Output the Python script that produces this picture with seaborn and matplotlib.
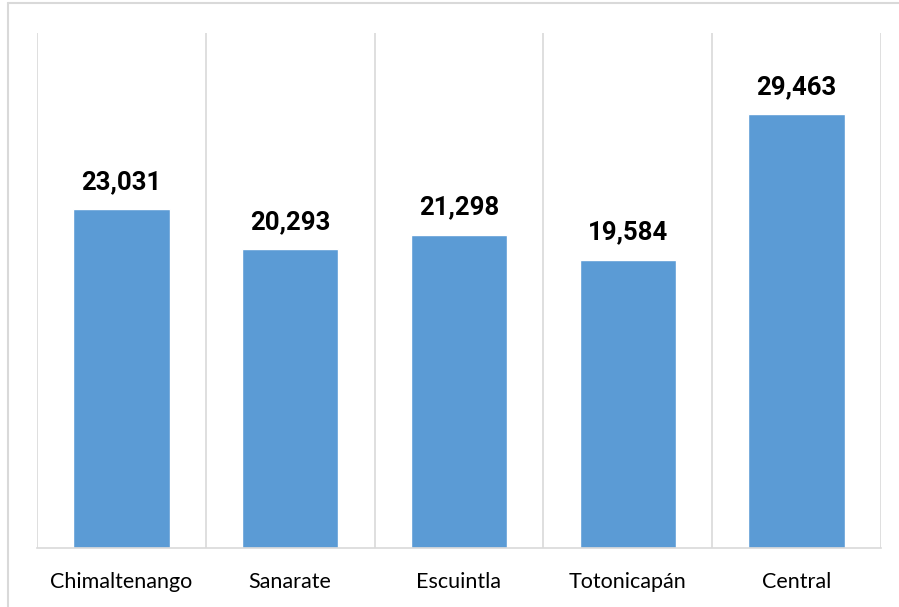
import matplotlib
matplotlib.use("Agg")
import matplotlib.pyplot as plt
from matplotlib.lines import Line2D
import seaborn as sns

sites = ["Chimaltenango", "Sanarate", "Escuintla", "Totonicapán", "Central"]
values = [23031, 20293, 21298, 19584, 29463]

sns.set_style("white")

fig = plt.figure(figsize=(8.99, 6.07), dpi=100)
W, H = 899, 607
ax = fig.add_axes([37 / W, (H - 548) / H, (881 - 37) / W, (548 - 33) / H])

sns.barplot(x=sites, y=values, color="#5B9BD5", width=0.572, saturation=1, ax=ax)

ax.set_ylim(0, 35000)
ax.set_xlim(-0.5, len(sites) - 0.5)
ax.set_yticks([])
ax.set_ylabel("")

# category separators
for b in range(len(sites) + 1):
    ax.axvline(b - 0.5, color="#D9D9D9", lw=1.2, zorder=0)

for s in ["top", "right", "left"]:
    ax.spines[s].set_visible(False)
ax.spines["bottom"].set_color("#D9D9D9")
ax.spines["bottom"].set_linewidth(1.2)

ax.tick_params(axis="x", length=0, pad=17)
for t in ax.get_xticklabels():
    t.set_fontfamily("Lato")
    t.set_fontsize(15.5)
    t.set_color("black")

for i, v in enumerate(values):
    ax.annotate(f"{v:,}", (i, v), xytext=(0, 11), textcoords="offset points",
                ha="center", va="bottom", fontsize=18.5, fontweight="bold",
                fontfamily="Roboto", color="black")

# outer chart frame (left and top edges visible)
fig.add_artist(Line2D([8 / W, 8 / W], [0, 1 - 3 / H], color="#D9D9D9", lw=1.5))
fig.add_artist(Line2D([8 / W, 1], [1 - 3 / H, 1 - 3 / H], color="#D9D9D9", lw=1.5))

fig.savefig("out.png", dpi=100)
